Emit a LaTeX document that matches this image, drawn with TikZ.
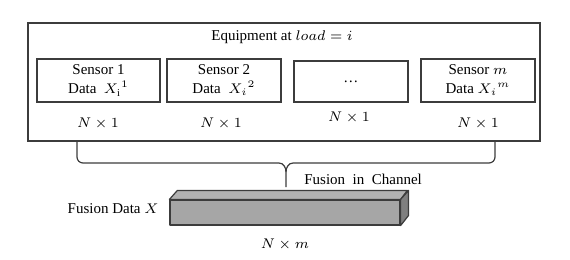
\documentclass[tikz,border=0pt]{standalone}
\usepackage{fontspec}
\setmainfont{Liberation Serif}
\usetikzlibrary{positioning,calc}
\definecolor{lineGray}{HTML}{3C3C3C}
\definecolor{barFront}{HTML}{A6A6A6}
\definecolor{barTop}{HTML}{B2B2B2}
\definecolor{barSide}{HTML}{7F7F7F}
\tikzset{
  % boxes of the equipment and its sensors
  frame/.style={draw=lineGray, line width=0.6pt, inner sep=0pt},
  sensor/.style={frame, align=center, minimum width=57pt, minimum height=21.5pt,
                 font=\fontsize{7.5}{9.5}\selectfont},
  txt/.style={font=\fontsize{7.5}{9.5}\selectfont, inner sep=1pt},
  brace/.style={draw=lineGray, line width=0.6pt},
  % faces of the fused bar
  face/.style={draw=lineGray, line width=0.6pt, line join=round},
}
\begin{document}
\begin{tikzpicture}[x=0.5pt,y=-0.5pt]
  \useasboundingbox (0,0) rectangle (570,259);

  \node[frame, minimum width=256pt, minimum height=59pt] (equip) at (284,82) {};
  \node[txt] (title) at (282,37) {Equipment at $load=i$};

  \node[sensor, minimum width=61.5pt] (s1) at (98.5,80.5) {Sensor 1\\Data\ \ $X_{\mathrm{i}}{}^{1}$};
  \node[sensor] (s2) at (224,80.5) {Sensor 2\\Data\ \ $X_i{}^{2}$};
  \node[sensor, minimum height=20.5pt] (s3) at (351,81.5) {\dots};
  \node[sensor] (sm) at (478,80.5) {Sensor $m$\\Data $X_i{}^{m}$};

  \node[txt] (d1) at (98,124) {$N\times1$};
  \node[txt] (d2) at (221,124) {$N\times1$};
  \node[txt] (d3) at (349,118) {$N\times1$};
  \node[txt] (dm) at (478,124) {$N\times1$};

  % brace under the equipment box
  \coordinate (bl) at (77,141);
  \coordinate (br) at (495,141);
  \coordinate (tip) at (286,187);
  \draw[brace] (bl) -- (77,157) to[out=-90,in=180] (83,163) -- (279,163)
    to[out=0,in=90] (286,172) -- (tip);
  \draw[brace] (br) -- (495,157) to[out=-90,in=0] (489,163) -- (293,163)
    to[out=180,in=90] (286,172);
  \node[txt, anchor=west] (chan) at (302,179) {Fusion\ \ in\ \ Channel};

  % fused data bar
  \node[face, fill=barFront, minimum width=115pt, minimum height=12.5pt, inner sep=0pt] (bar) at (285,212.5) {};
  \draw[face, fill=barTop] (bar.north west) -- ++(8,-9) -- ++(230,0) -- (bar.north east) -- cycle;
  \draw[face, fill=barSide] (bar.north east) -- ++(8,-9) -- ++(0,25) -- (bar.south east) -- cycle;
  \node[txt, anchor=east] (fx) at (161,209) {Fusion Data $X$};
  \node[txt] (nm) at (285,245) {$N\times m$};
\end{tikzpicture}
\end{document}
